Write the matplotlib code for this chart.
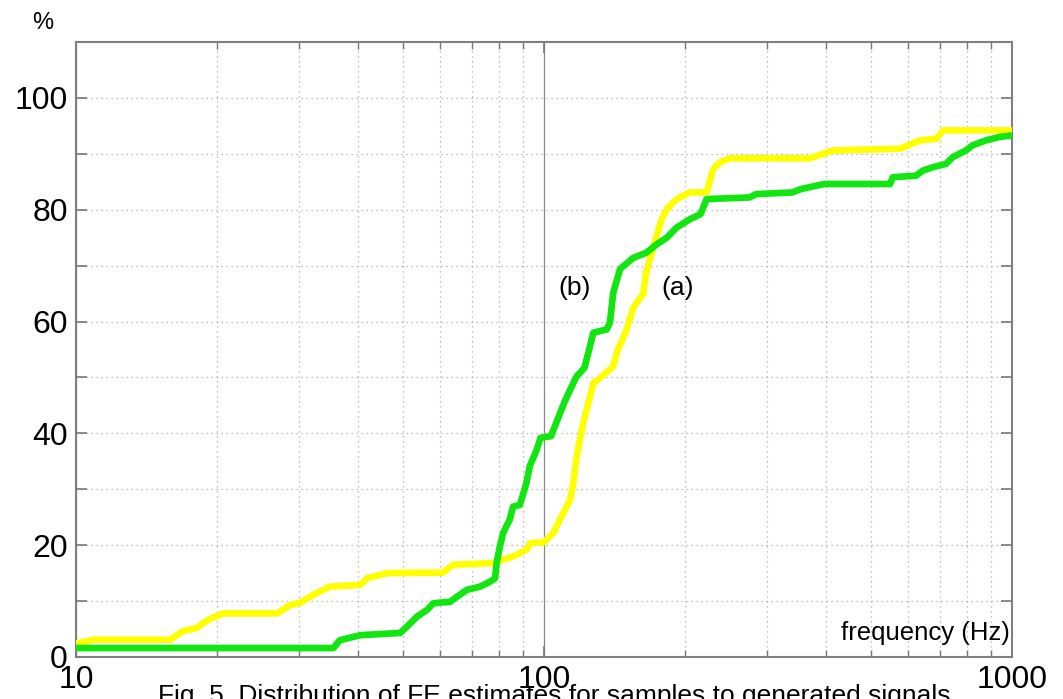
import matplotlib
matplotlib.use("Agg")
import matplotlib.pyplot as plt
from matplotlib.ticker import FixedLocator, NullFormatter, FixedFormatter

plt.rcParams['font.family'] = ['Liberation Sans', 'DejaVu Sans']

# (a) yellow curve
freq_a = [10, 10.9, 15.9, 16.9, 18.1, 19.1, 20.6, 26.9, 28.7, 30.1, 32.1, 34.9, 40.5, 41.9, 46.2,
          60.8, 63.9, 77.8, 85.9, 91.8, 93.5, 99.8, 104.7, 110, 113.7, 115.5, 117.4, 121.3,
          127.5, 131.7, 140.6, 143, 150.2, 155.2, 163, 165, 169.8, 174, 178.4, 183, 192, 205,
          222.6, 230, 237.7, 249.5, 370, 415, 576, 636, 690, 713, 1000]
pct_a = [2.4, 3.1, 3.1, 4.6, 5.2, 6.6, 7.8, 7.8, 9.3, 9.7, 11.1, 12.6, 12.9, 14.1, 15.0,
         15.1, 16.5, 16.8, 18.0, 19.2, 20.4, 20.5, 22.2, 25.8, 28.1, 31.1, 35.9, 41.9,
         49.0, 49.9, 52.0, 54.4, 58.6, 62.5, 65.0, 68.5, 72.3, 75.3, 78.3, 80.1, 81.9, 83.1,
         83.1, 87.3, 88.5, 89.2, 89.2, 90.6, 90.9, 92.4, 92.7, 94.2, 94.2]

# (b) green curve
freq_b = [10, 35.5, 36.6, 40.5, 49.3, 50.9, 53.5, 56.2, 58, 63.1, 65.2, 68.4, 73.1, 76.8, 78.6,
          79.2, 80.5, 81.8, 84.5, 85.9, 88.8, 91.7, 93.2, 96.5, 98.3, 103.5, 106.9, 110.5,
          113.7, 117.4, 122, 127.5, 136.2, 138.3, 140.6, 145.4, 155.2, 165.3, 174, 183, 192,
          205, 216, 222.6, 275, 284, 340, 354, 397, 549, 556, 624, 645, 677, 723, 747, 797,
          823, 879, 938, 1000]
pct_b = [1.6, 1.6, 3.0, 3.9, 4.3, 5.4, 7.2, 8.4, 9.6, 9.9, 10.8, 12.0, 12.6, 13.5, 14.1,
         16.8, 19.8, 22.2, 24.6, 26.9, 27.2, 31.1, 34.1, 37.1, 39.2, 39.5, 42.5, 45.5,
         47.8, 50.2, 51.7, 58.0, 58.6, 59.8, 65.2, 69.4, 71.4, 72.3, 73.8, 75.0, 76.8,
         78.3, 79.2, 81.9, 82.2, 82.8, 83.1, 83.7, 84.6, 84.6, 85.8, 86.1, 87.0, 87.6, 88.2,
         89.4, 90.6, 91.5, 92.4, 93.0, 93.3]

y_ticks = [0, 10, 20, 30, 40, 50, 60, 70, 80, 90, 100]
y_labels = ['0', '', '20', '', '40', '', '60', '', '80', '', '100']
x_ticks = [10, 100, 1000]
x_labels = ['10', '100', '1000']

fig = plt.figure(figsize=(10.63, 6.99), dpi=100)
ax = fig.add_axes([76/1063, 1 - 657/699, (1012 - 76)/1063, (657 - 42)/699])

ax.plot(freq_a, pct_a, color='#ffff00', lw=4.8, solid_capstyle='butt', zorder=3)
ax.plot(freq_b, pct_b, color='#11e611', lw=4.8, solid_capstyle='butt', zorder=4)

ax.set_xscale('log')
ax.set_xlim(10, 1000)
ax.set_ylim(0, 110)

ax.xaxis.set_major_locator(FixedLocator(x_ticks))
ax.xaxis.set_major_formatter(FixedFormatter(x_labels))
minor = [m * d for d in (10, 100) for m in range(2, 10)]
ax.xaxis.set_minor_locator(FixedLocator(minor))
ax.xaxis.set_minor_formatter(NullFormatter())
ax.yaxis.set_major_locator(FixedLocator(y_ticks))
ax.yaxis.set_major_formatter(FixedFormatter(y_labels))

ax.tick_params(axis='both', which='both', direction='in', top=True, right=True,
               colors='#777777', labelcolor='black', labelsize=23)
ax.tick_params(axis='y', which='major', length=8, width=1.2, pad=6)
ax.tick_params(axis='x', which='major', length=8, width=1.2, pad=6)
ax.tick_params(axis='x', which='minor', length=5, width=1.0)

ax.grid(True, which='major', axis='x', color='#888888', lw=0.9, linestyle='-')
ax.grid(True, which='minor', axis='x', color='#aaaaaa', lw=0.9, linestyle=(0, (1, 3)))
ax.grid(True, which='major', axis='y', color='#aaaaaa', lw=0.9, linestyle=(0, (1, 3)))
ax.set_axisbelow(True)

for s in ax.spines.values():
    s.set_color('#808080')
    s.set_linewidth(1.5)

fig.text(43/1063, 1 - 23/699, '%', fontsize=17, ha='center', va='center')
ax.text(116.5, 66, '(b)', fontsize=19, ha='center', va='center')
ax.text(193, 66, '(a)', fontsize=19, ha='center', va='center')
ax.text(0.9975, 0.039, 'frequency (Hz)', transform=ax.transAxes, fontsize=18.5,
        ha='right', va='center')

fig.text(554/1063, 1 - 703/699,
         'Fig. 5. Distribution of FE estimates for samples to generated signals',
         fontsize=19, ha='center', va='baseline')

fig.savefig('out.png', dpi=100)
